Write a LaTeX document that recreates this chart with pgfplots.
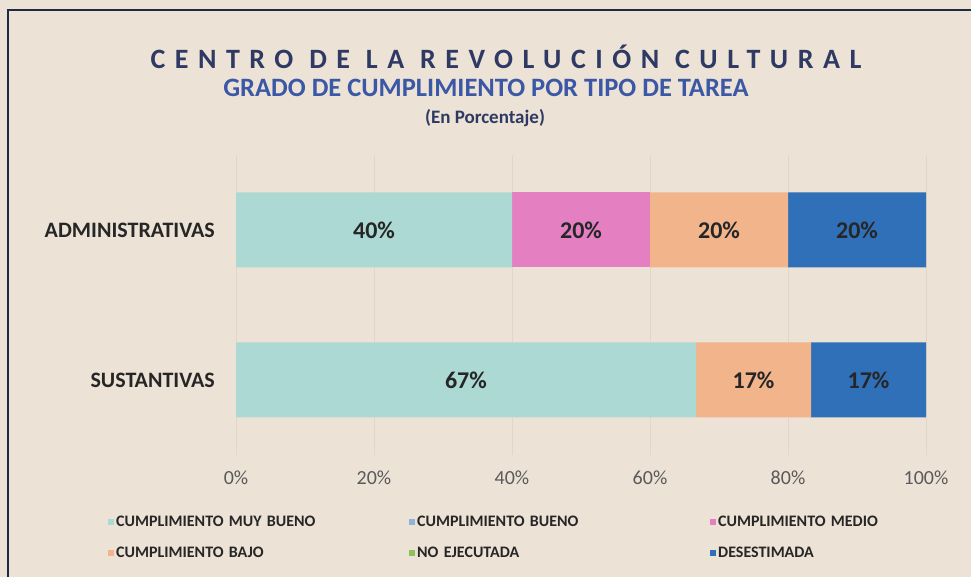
\documentclass[border=0pt]{standalone}
\usepackage{fontspec}
\setmainfont{Carlito}
\newfontfamily\spacedfont[LetterSpace=34]{Carlito}
\usepackage{pgfplots}
\pgfplotsset{compat=1.18}
\definecolor{bg}{HTML}{ECE2D6}
\definecolor{gridc}{HTML}{E0D6C9}
\definecolor{frame}{HTML}{1F2A44}
\definecolor{tone}{HTML}{2E3A63}
\definecolor{ttwo}{HTML}{3A58A6}
\definecolor{cmb}{HTML}{ACD9D4}
\definecolor{cb}{HTML}{8FB4DC}
\definecolor{cm}{HTML}{E47FC1}
\definecolor{cba}{HTML}{F2B48B}
\definecolor{cne}{HTML}{8FC05A}
\definecolor{cd}{HTML}{2F70B8}
\definecolor{txt}{HTML}{262626}
\definecolor{ticktxt}{HTML}{5A5A5A}
\pgfplotsset{
  common/.style={
    at={(236pt,122pt)}, anchor=south west,
    width=690pt, height=300pt, scale only axis,
    xmin=0, xmax=100, ymin=-0.5, ymax=1.5,
  }
}
\begin{document}
\begin{tikzpicture}
\useasboundingbox (0,0) rectangle (971pt,577pt);
\fill[bg] (0,0) rectangle (971pt,577pt);
\draw[frame, line width=2pt] (971pt,567pt) -- (8pt,567pt) -- (8pt,0pt);
\node[text=tone, font=\spacedfont\bfseries\fontsize{28}{28}\selectfont] at (506pt,520pt) {CENTRO DE LA REVOLUCIÓN CULTURAL};
\node[text=ttwo, font=\bfseries\fontsize{26.5}{26.5}\selectfont] at (486pt,489pt) {GRADO DE CUMPLIMIENTO POR TIPO DE TAREA};
\node[text=tone, font=\bfseries\fontsize{19}{19}\selectfont] at (485pt,459pt) {(En Porcentaje)};
\begin{axis}[
  common,
  xbar stacked, bar width=75pt,
  axis line style={draw=none},
  major tick length=0pt,
  /pgf/number format/assume math mode=true,
  xtick={0,20,40,60,80,100},
  xticklabel={\pgfmathprintnumber{\tick}\%},
  xticklabel style={font=\fontsize{20}{20}\selectfont, text=ticktxt, anchor=center, inner sep=0pt, yshift=-23pt},
  ytick={0,1}, yticklabels={SUSTANTIVAS,ADMINISTRATIVAS},
  yticklabel style={font=\bfseries\fontsize{22}{22}\selectfont, text=txt, anchor=east, inner sep=0pt, xshift=-21pt},
  xmajorgrids, major grid style={color=gridc, line width=0.8pt},
  legend columns=3,
  legend image code/.code={\fill[#1] (0pt,-3pt) rectangle (6pt,3pt);},
  legend style={at={(-0.1855,-0.2)}, anchor=north west, draw=none, fill=none, inner sep=0pt,
    /tikz/column sep=2pt, /tikz/row sep=17pt,
    nodes={inner sep=0pt, text width=291pt, align=left, text height=11pt, text depth=3pt,
      font=\bfseries\fontsize{16}{16}\selectfont, text=txt}},
]
\addplot[fill=cmb, draw=none] coordinates {(66.67,0) (40,1)};
\addlegendentry{CUMPLIMIENTO MUY BUENO}
\addplot[fill=cb, draw=none] coordinates {(0,0) (0,1)};
\addlegendentry{CUMPLIMIENTO BUENO}
\addplot[fill=cm, draw=none] coordinates {(0,0) (20,1)};
\addlegendentry{CUMPLIMIENTO MEDIO}
\addplot[fill=cba, draw=none] coordinates {(16.67,0) (20,1)};
\addlegendentry{CUMPLIMIENTO BAJO}
\addplot[fill=cne, draw=none] coordinates {(0,0) (0,1)};
\addlegendentry{NO EJECUTADA}
\addplot[fill=cd, draw=none] coordinates {(16.67,0) (20,1)};
\addlegendentry{DESESTIMADA}
\end{axis}
\begin{axis}[common, hide axis]
\addplot[only marks, mark=none,
  nodes near coords={\pgfplotspointmeta\%},
  point meta=explicit symbolic,
  nodes near coords style={anchor=center, inner sep=0pt, font=\bfseries\fontsize{24}{24}\selectfont, text=txt}]
  table[meta=lab] {
x y lab
20 1 40
50 1 20
70 1 20
90 1 20
33.33 0 67
75 0 17
91.67 0 17
};
\end{axis}
\end{tikzpicture}
\end{document}
